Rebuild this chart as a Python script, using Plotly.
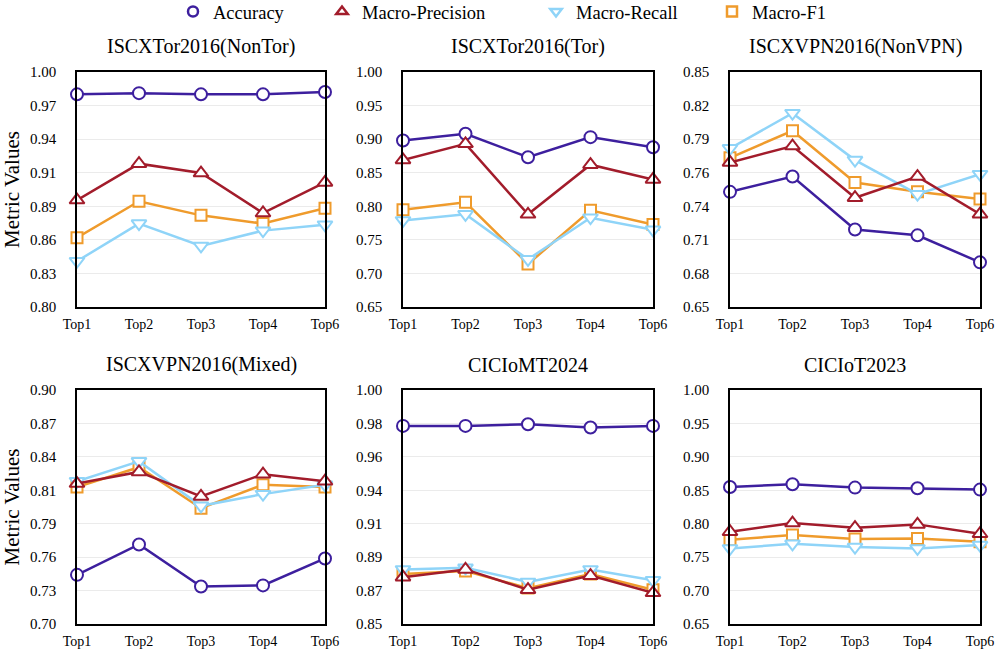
import numpy as np
import plotly.graph_objects as go
from plotly.subplots import make_subplots

categories = ["Top1", "Top2", "Top3", "Top4", "Top6"]
datasets = ["ISCXTor2016(NonTor)", "ISCXTor2016(Tor)", "ISCXVPN2016(NonVPN)",
            "ISCXVPN2016(Mixed)", "CICIoMT2024", "CICIoT2023"]

accuracy = [
    [0.981, 0.982, 0.981, 0.981, 0.983],
    [0.898, 0.908, 0.873, 0.903, 0.888],
    [0.748, 0.761, 0.716, 0.711, 0.688],
    [0.742, 0.768, 0.732, 0.733, 0.756],
    [0.977, 0.977, 0.978, 0.976, 0.977],
    [0.855, 0.859, 0.854, 0.853, 0.851],
]
precision = [
    [0.891, 0.922, 0.914, 0.880, 0.906],
    [0.869, 0.893, 0.788, 0.862, 0.840],
    [0.773, 0.787, 0.743, 0.761, 0.729],
    [0.820, 0.830, 0.809, 0.828, 0.822],
    [0.880, 0.885, 0.872, 0.881, 0.870],
    [0.788, 0.801, 0.794, 0.799, 0.785],
]
recall = [
    [0.839, 0.871, 0.852, 0.865, 0.870],
    [0.779, 0.788, 0.721, 0.783, 0.765],
    [0.785, 0.815, 0.775, 0.746, 0.763],
    [0.822, 0.839, 0.801, 0.811, 0.819],
    [0.885, 0.886, 0.877, 0.885, 0.878],
    [0.763, 0.770, 0.765, 0.763, 0.768],
]
f1 = [
    [0.859, 0.890, 0.878, 0.871, 0.884],
    [0.795, 0.806, 0.714, 0.794, 0.773],
    [0.777, 0.800, 0.756, 0.748, 0.742],
    [0.817, 0.834, 0.799, 0.819, 0.817],
    [0.882, 0.884, 0.873, 0.882, 0.872],
    [0.776, 0.783, 0.777, 0.778, 0.773],
]
y_low = [0.80, 0.65, 0.65, 0.70, 0.85, 0.65]
y_high = [1.00, 1.00, 0.85, 0.90, 1.00, 1.00]
n_ticks = 8

metric_names = ["Accuracy", "Macro-Precision", "Macro-Recall", "Macro-F1"]
metric_data = {"Accuracy": accuracy, "Macro-Precision": precision,
               "Macro-Recall": recall, "Macro-F1": f1}
colors = {"Accuracy": "#3d1f9e", "Macro-Precision": "#a21c2b",
          "Macro-Recall": "#8fd4f8", "Macro-F1": "#ef9b2c"}
symbols = {"Accuracy": "circle", "Macro-Precision": "triangle-up",
           "Macro-Recall": "triangle-down", "Macro-F1": "square"}
sizes = {"Accuracy": 12, "Macro-Precision": 13, "Macro-Recall": 13, "Macro-F1": 11}
draw_order = ["Accuracy", "Macro-F1", "Macro-Recall", "Macro-Precision"]

FONT = "Liberation Serif"
W, H = 997, 652
ML, MT = 77, 72
MR, MB = W - 980, H - 624
PW, PH = W - ML - MR, H - MT - MB

def px_x(p):
    return (p - ML) / PW

def px_y(p):
    return (H - MB - p) / PH

col_dom = [(px_x(77), px_x(325)), (px_x(403), px_x(653)), (px_x(730), px_x(980))]
row_dom = [(px_y(307), px_y(72)), (px_y(624), px_y(390))]

fig = make_subplots(rows=2, cols=3)

for i, ds in enumerate(datasets):
    r, c = i // 3 + 1, i % 3 + 1
    for m in draw_order:
        fig.add_trace(go.Scatter(
            x=categories, y=metric_data[m][i], mode="lines+markers", name=m,
            line=dict(color=colors[m], width=2.5),
            marker=dict(symbol=symbols[m], size=sizes[m], color="white",
                        line=dict(color=colors[m], width=2)),
            cliponaxis=False, showlegend=False), row=r, col=c)
    tv = np.linspace(y_low[i], y_high[i], n_ticks)
    fig.update_yaxes(range=[y_low[i], y_high[i]], tickmode="array", tickvals=tv,
                     tickformat=".2f", showgrid=True, gridcolor="#ebebeb", gridwidth=1,
                     zeroline=False, showline=True, mirror=True, linecolor="black",
                     linewidth=1.5, ticks="", ticklabelstandoff=16, automargin=False,
                     tickfont=dict(family=FONT, size=15, color="black"),
                     domain=row_dom[r - 1], row=r, col=c)
    fig.update_xaxes(range=[0, 4], showgrid=False, zeroline=False, showline=True,
                     mirror=True, linecolor="black", linewidth=1.5, ticks="",
                     ticklabelstandoff=3, automargin=False,
                     tickfont=dict(family=FONT, size=14, color="black"),
                     domain=col_dom[c - 1], row=r, col=c)
    if c == 1:
        fig.update_yaxes(title=dict(text="Metric Values", standoff=8,
                                    font=dict(family=FONT, size=21, color="black")),
                         row=r, col=c)
    fig.add_annotation(text=ds, xref="paper", yref="paper",
                       x=(col_dom[c - 1][0] + col_dom[c - 1][1]) / 2,
                       y=row_dom[r - 1][1], xanchor="center", yanchor="bottom",
                       yshift=12, showarrow=False,
                       font=dict(family=FONT, size=20, color="black"))

legend_marker_px = [193, 342, 556, 732]
legend_keys = ["legend", "legend2", "legend3", "legend4"]
for m, lk, mp in zip(metric_names, legend_keys, legend_marker_px):
    fig.add_trace(go.Scatter(
        x=[None], y=[None], mode="markers", name=m, legend=lk,
        marker=dict(symbol=symbols[m], size=10, color="white",
                    line=dict(color=colors[m], width=2.5)),
        showlegend=True))
    fig.update_layout({lk: dict(xref="container", yref="container",
                                x=(mp - 20) / W, y=1 - 12 / H,
                                xanchor="left", yanchor="middle", orientation="h",
                                bgcolor="rgba(0,0,0,0)", borderwidth=0,
                                font=dict(family=FONT, size=18.5, color="black"))})

fig.update_layout(width=W, height=H, margin=dict(l=ML, r=MR, t=MT, b=MB,
                                                 autoexpand=False),
                  paper_bgcolor="white", plot_bgcolor="white",
                  font=dict(family=FONT, color="black"))

fig.write_html("out.html", config={"displayModeBar": False},
               post_script="document.body.style.margin='0px';"
                           "document.body.style.overflow='hidden';")
